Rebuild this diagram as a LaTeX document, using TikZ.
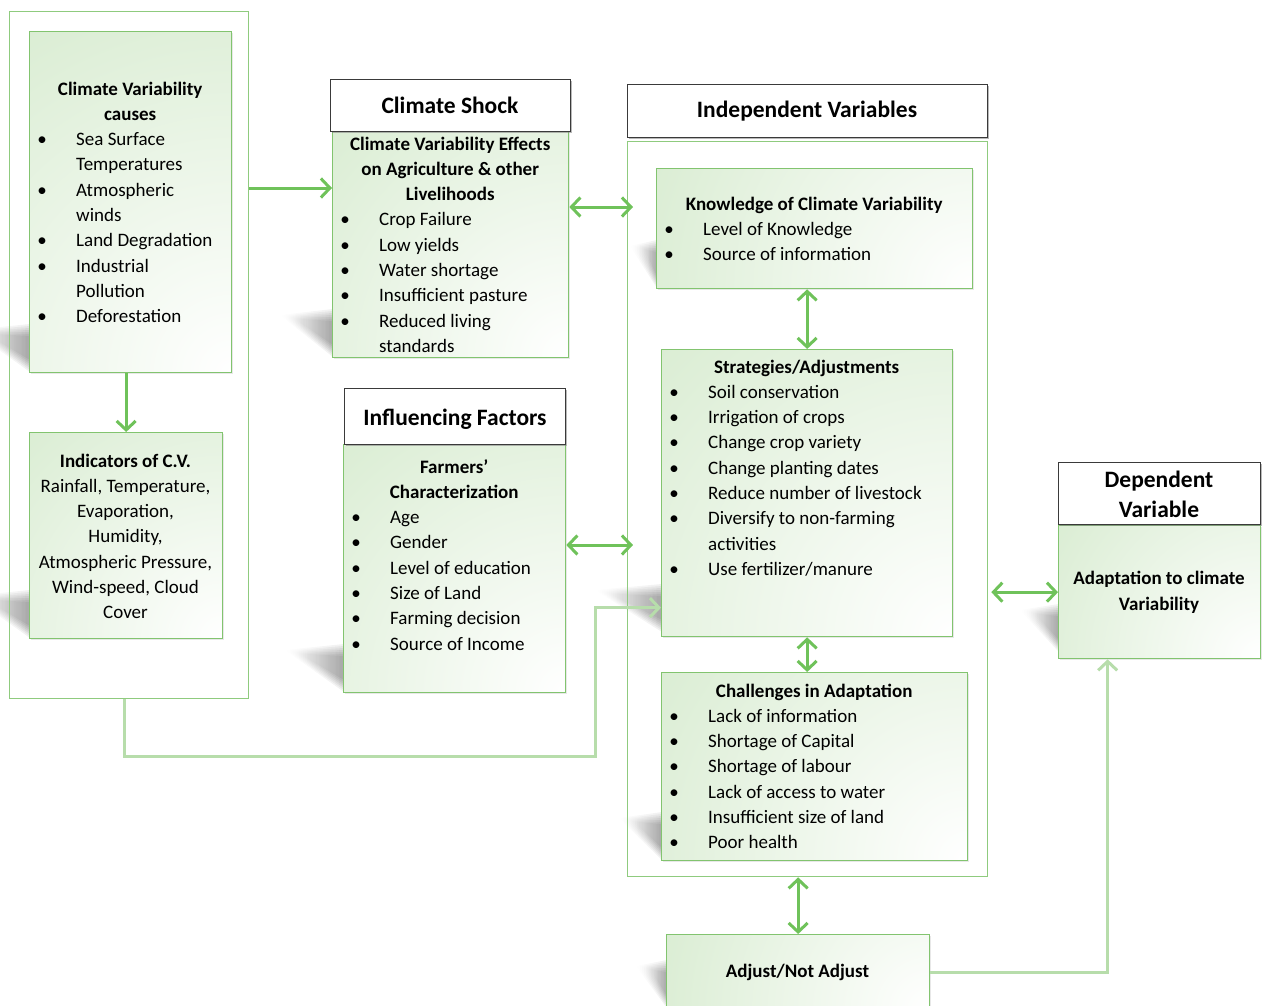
\documentclass[tikz,border=0pt]{standalone}
\usepackage{fontspec}
\setmainfont{Carlito}
\usetikzlibrary{arrows.meta,calc,shadows,fadings}
\definecolor{gfill}{HTML}{D0E8C7}
\definecolor{gline}{HTML}{82C46F}
\definecolor{oline}{HTML}{8FCB7E}
\definecolor{garrow}{HTML}{6FC25A}
\definecolor{palegreen}{HTML}{B7DDAB}
\definecolor{hline}{HTML}{3A3A3A}
\newcommand\bt{\makebox[26pt]{\textbullet}}
\newcommand\pshadow[3]{%
  \foreach \k in {0,2,4,6,8,10,12}{%
    \fill[black, opacity=0.06, path fading=west]
      ({#1-#3+1.2*\k},{#2-42+0.3*\k}) -- ({#1+1},{#2-48+\k}) -- ({#1+1},{#2-\k}) -- cycle;}}
\tikzset{
  gtip/.tip={Straight Barb[length=9pt,width=19pt]},
  outerbox/.style={draw=oline, line width=1.3pt, rectangle, anchor=north west, inner sep=0pt},
  gbox/.style={draw=gline, line width=1.3pt, rectangle, anchor=north west, inner sep=0pt,
    drop shadow={shadow xshift=1.5pt, shadow yshift=-1.5pt, opacity=0.18},
    path picture={\shade[inner color=white, outer color=gfill]
      let \p1=(path picture bounding box.south east),
          \p2=(path picture bounding box.north west),
          \n1={veclen(\x1-\x2,\y1-\y2)} in
      (\p1) circle[radius={1.3*\n1}];}},
  hbox/.style={draw=hline, line width=1pt, fill=white, rectangle, anchor=north west, inner sep=0pt,
    drop shadow={shadow xshift=1.2pt, shadow yshift=-1.2pt, opacity=0.55}},
  body/.style={font=\fontsize{19}{25.3}\selectfont, inner sep=0pt},
  bodyb/.style={font=\fontsize{19}{25.3}\selectfont\bfseries, inner sep=0pt, align=center},
  title/.style={font=\fontsize{23.5}{30}\selectfont\bfseries, inner sep=0pt, align=center, anchor=base},
  arr/.style={draw=garrow, line width=3pt},
  palearr/.style={draw=palegreen, line width=3pt},
}
\begin{document}
\begin{tikzpicture}[x=1pt,y=-1pt]
\useasboundingbox (0,0) rectangle (1267,1005);

% perspective shadows
\pshadow{29}{372}{58}
\pshadow{29}{638}{58}
\pshadow{332}{357}{52}
\pshadow{343}{692}{58}
\pshadow{656}{288}{26}
\pshadow{661}{632}{66}
\pshadow{661}{860}{42}
\pshadow{666}{1008}{30}
\pshadow{1058}{652}{38}

% containers
\node[outerbox, minimum width=239, minimum height=687] (outer) at (9,11) {};
\node[outerbox, minimum width=360, minimum height=735] (cont) at (627,141) {};

% green boxes
\node[gbox, minimum width=202, minimum height=341] (b1) at (29,31) {};
\node[gbox, minimum width=193, minimum height=206] (ind) at (29,432) {};
\node[gbox, minimum width=236, minimum height=226] (shock) at (332,131) {};
\node[gbox, minimum width=222, minimum height=248] (farm) at (343,444) {};
\node[gbox, minimum width=316, minimum height=120] (know) at (656,168) {};
\node[gbox, minimum width=291, minimum height=287] (strat) at (661,349) {};
\node[gbox, minimum width=306, minimum height=188] (chal) at (661,672) {};
\node[gbox, minimum width=263, minimum height=76] (adj) at (666,934) {};
\node[gbox, minimum width=202, minimum height=133] (adapt) at (1058,525) {};

% header boxes
\node[hbox, minimum width=240, minimum height=52] (hshock) at (330,79) {};
\node[hbox, minimum width=360, minimum height=53] (hind) at (627,84) {};
\node[hbox, minimum width=221, minimum height=56] (hinf) at (344,388) {};
\node[hbox, minimum width=202, minimum height=62] (hdep) at (1058,462) {};

\node[title] (hshockt) at (450,113) {Climate Shock};
\node[title] (hindt) at (807,117) {Independent Variables};
\node[title] (hinft) at (455,425) {Influencing Factors};
\node[title] (hdept) at (1159,517) {Dependent\\Variable};

% texts
\node[body, anchor=base west] (b1t) at (29,95) {\begin{tabular}[t]{@{}p{47pt}@{}p{155pt}@{}}
\multicolumn{2}{@{}c@{}}{\bfseries Climate Variability}\\
\multicolumn{2}{@{}c@{}}{\bfseries causes}\\
\bt & Sea Surface\\
    & Temperatures\\
\bt & Atmospheric\\
    & winds\\
\bt & Land Degradation\\
\bt & Industrial\\
    & Pollution\\
\bt & Deforestation
\end{tabular}};

\node[body, anchor=base] (indt) at (125.5,467) {\begin{tabular}[t]{@{}c@{}}
\bfseries Indicators of C.V.\\
Rainfall, Temperature,\\
Evaporation,\\
Humidity,\\
Atmospheric Pressure,\\
Wind-speed, Cloud\\
Cover
\end{tabular}};

\node[body, anchor=base west] (shockt) at (332,150) {\begin{tabular}[t]{@{}p{47pt}@{}p{189pt}@{}}
\multicolumn{2}{@{}c@{}}{\bfseries Climate Variability Effects}\\
\multicolumn{2}{@{}c@{}}{\bfseries on Agriculture \& other}\\
\multicolumn{2}{@{}c@{}}{\bfseries Livelihoods}\\
\bt & Crop Failure\\
\bt & Low yields\\
\bt & Water shortage\\
\bt & Insufficient pasture\\
\bt & Reduced living\\
    & standards
\end{tabular}};

\node[body, anchor=base west] (farmt) at (343,473) {\begin{tabular}[t]{@{}p{47pt}@{}p{175pt}@{}}
\multicolumn{2}{@{}c@{}}{\bfseries Farmers’}\\
\multicolumn{2}{@{}c@{}}{\bfseries Characterization}\\
\bt & Age\\
\bt & Gender\\
\bt & Level of education\\
\bt & Size of Land\\
\bt & Farming decision\\
\bt & Source of Income
\end{tabular}};

\node[body, anchor=base west] (knowt) at (656,210) {\begin{tabular}[t]{@{}p{47pt}@{}p{269pt}@{}}
\multicolumn{2}{@{}c@{}}{\bfseries Knowledge of Climate Variability}\\
\bt & Level of Knowledge\\
\bt & Source of information
\end{tabular}};

\node[body, anchor=base west] (stratt) at (661,373) {\begin{tabular}[t]{@{}p{47pt}@{}p{244pt}@{}}
\multicolumn{2}{@{}c@{}}{\bfseries Strategies/Adjustments}\\
\bt & Soil conservation\\
\bt & Irrigation of crops\\
\bt & Change crop variety\\
\bt & Change planting dates\\
\bt & Reduce number of livestock\\
\bt & Diversify to non-farming\\
    & activities\\
\bt & Use fertilizer/manure
\end{tabular}};

\node[body, anchor=base west] (chalt) at (661,697) {\begin{tabular}[t]{@{}p{47pt}@{}p{259pt}@{}}
\multicolumn{2}{@{}c@{}}{\bfseries Challenges in Adaptation}\\
\bt & Lack of information\\
\bt & Shortage of Capital\\
\bt & Shortage of labour\\
\bt & Lack of access to water\\
\bt & Insufficient size of land\\
\bt & Poor health
\end{tabular}};

\node[bodyb, anchor=base] (adjt) at (797.5,977) {Adjust/Not Adjust};
\node[bodyb, anchor=base] (adaptt) at (1159,610) {Adaptation to climate\\Variability};

% connectors
\draw[arr,-gtip] ($(outer.north east)+(0,177)$) -- ($(shock.north west)+(0,57)$);
\draw[arr,-gtip] (ind.north |- b1.south) -- (ind.north);
\draw[arr,gtip-gtip] ($(shock.north east)+(0,76)$) -- ($(cont.north west)+(6,66)$);
\draw[arr,gtip-gtip] ($(farm.north east)+(0,101)$) -- ($(cont.north west)+(6,404)$);
\draw[arr,gtip-gtip] (strat.north |- know.south) -- (strat.north);
\draw[arr,gtip-gtip] (strat.south) -- (strat.south |- chal.north);
\draw[arr,gtip-gtip] (adj.north |- cont.south) -- (adj.north);
\draw[arr,gtip-gtip] ($(cont.east |- adapt.west)+(3,0)$) -- (adapt.west);
\draw[palearr,-gtip] ($(outer.south)+(-4.5,0)$) -- ++(0,57) -- ++(471,0) |- ($(strat.west)+(0,114.5)$);
\draw[palearr,-gtip] (adj.east) -| ($(adapt.south)+(-52,0)$);
\end{tikzpicture}
\end{document}
